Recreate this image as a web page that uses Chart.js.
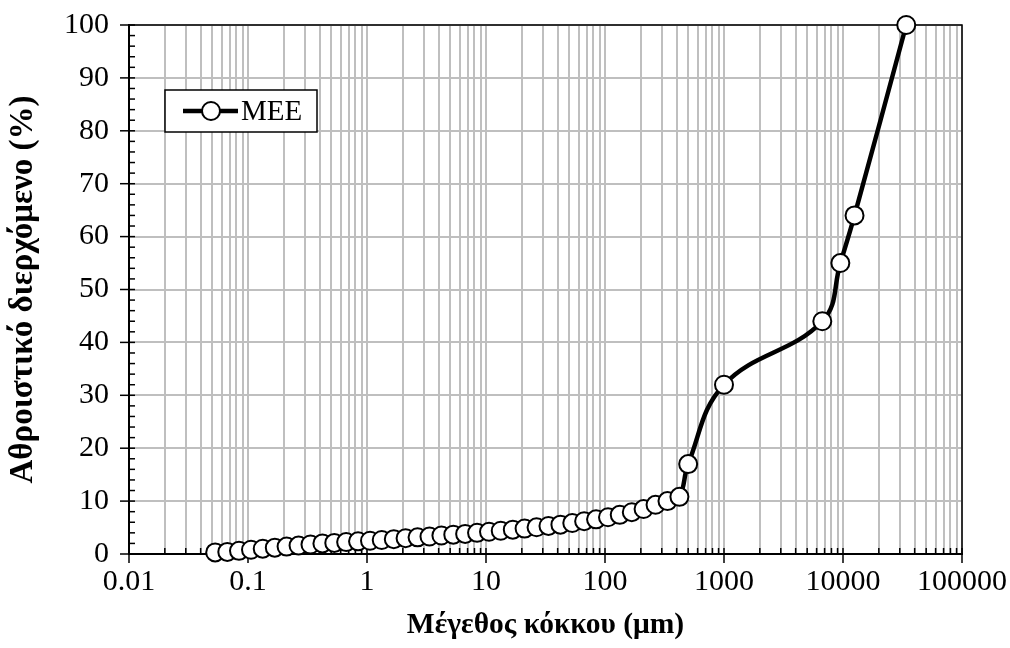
<!DOCTYPE html>
<html>
<head>
<meta charset="utf-8">
<script src="https://cdn.jsdelivr.net/npm/chart.js@4.4.1/dist/chart.umd.min.js"></script>
<style>
  html, body { margin: 0; padding: 0; background: #fff; }
</style>
</head>
<body>
<canvas id="psd-chart" width="1010" height="648"></canvas>
<script>
// grain size (um) and cumulative passing (%)
const grainSize = [0.053, 0.067, 0.084, 0.106, 0.133, 0.168, 0.211, 0.266, 0.335, 0.422,
  0.531, 0.668, 0.841, 1.06, 1.33, 1.68, 2.11, 2.66, 3.35, 4.22,
  5.31, 6.68, 8.41, 10.6, 13.3, 16.8, 21.1, 26.6, 33.5, 42.2,
  53.1, 66.8, 84.1, 106, 133, 168, 211, 266, 335, 422,
  500, 1000, 6700, 9500, 12500, 34000];
const passing = [0.3, 0.4, 0.6, 0.8, 1.0, 1.2, 1.4, 1.6, 1.8, 2.0,
  2.1, 2.25, 2.4, 2.5, 2.65, 2.8, 3.0, 3.15, 3.3, 3.5,
  3.65, 3.8, 4.0, 4.2, 4.4, 4.6, 4.8, 5.05, 5.3, 5.55,
  5.85, 6.2, 6.55, 6.95, 7.4, 7.9, 8.5, 9.3, 10.0, 10.8,
  17, 32, 44, 55, 64, 100];
const seriesName = 'MEE';
const xDecades = [0.01, 0.1, 1, 10, 100, 1000, 10000, 100000];
const xTitle = 'Μέγεθος κόκκου (μm)';
const yTitle = 'Αθροιστικό διερχόμενο (%)';

const FONT = "'Liberation Serif', 'Times New Roman', serif";

// frame + tick marks (major ticks cross the axis, minor ticks point inwards)
const frameTicks = {
  id: 'frameTicks',
  beforeDatasetsDraw(chart) {
    const { ctx, chartArea: a, scales: { x, y } } = chart;
    ctx.save();
    ctx.strokeStyle = '#000';
    ctx.lineWidth = 1.5;
    ctx.strokeRect(a.left, a.top, a.right - a.left, a.bottom - a.top);
    x.ticks.forEach(t => {
      const px = x.getPixelForValue(t.value);
      const major = xDecades.includes(t.value);
      ctx.beginPath();
      ctx.moveTo(px, a.bottom - 6);
      ctx.lineTo(px, a.bottom + (major ? 9 : 0));
      ctx.stroke();
    });
    for (let v = 0; v <= 100; v += 2) {
      const py = y.getPixelForValue(v);
      const major = v % 10 === 0;
      ctx.beginPath();
      ctx.moveTo(a.left - (major ? 9 : 0), py);
      ctx.lineTo(a.left + 6, py);
      ctx.stroke();
    }
    ctx.restore();
  }
};

const legendBox = {
  id: 'legendBox',
  afterDraw(chart) {
    const ctx = chart.ctx;
    const ds = chart.data.datasets[0];
    ctx.save();
    ctx.fillStyle = '#fff';
    ctx.fillRect(165, 90, 152, 42);
    ctx.strokeStyle = '#000';
    ctx.lineWidth = 1.5;
    ctx.strokeRect(165, 90, 152, 42);
    ctx.lineWidth = 4.5;
    ctx.beginPath();
    ctx.moveTo(183, 111);
    ctx.lineTo(238, 111);
    ctx.stroke();
    ctx.beginPath();
    ctx.arc(211, 111, 9, 0, Math.PI * 2);
    ctx.fillStyle = '#fff';
    ctx.fill();
    ctx.lineWidth = 2;
    ctx.stroke();
    ctx.fillStyle = '#000';
    ctx.font = "29px " + FONT;
    ctx.textBaseline = 'middle';
    ctx.fillText(ds.label, 241, 112);
    ctx.restore();
  }
};

const ctx = document.getElementById('psd-chart').getContext('2d');
const psdChart = new Chart(ctx, {
  type: 'line',
  data: {
    datasets: [{
      label: seriesName,
      data: grainSize.map((g, i) => ({ x: g, y: passing[i] })),
      borderColor: '#000',
      borderWidth: 4.5,
      tension: 0.4,
      pointRadius: 9,
      pointBorderWidth: 2,
      pointBackgroundColor: '#fff',
      pointBorderColor: '#000',
      clip: false,
    }]
  },
  options: {
    responsive: false,
    animation: false,
    devicePixelRatio: 1,
    layout: { padding: { top: 25, right: 48, bottom: 0, left: 0 } },
    plugins: {
      legend: { display: false },
      tooltip: { enabled: false },
    },
    scales: {
      x: {
        type: 'logarithmic',
        min: 0.01,
        max: 100000,
        afterFit: s => {
          s.height = 94;
          s.paddingLeft = 0;
          s.paddingRight = 0;
        },
        afterBuildTicks: s => {
          const ticks = [];
          xDecades.forEach(d => {
            for (let m = 1; m <= 9; m++) {
              const v = m === 1 ? d : +(d * m).toPrecision(6);
              if (v <= 100000) ticks.push({ value: v });
            }
          });
          s.ticks = ticks;
        },
        ticks: {
          autoSkip: false,
          maxRotation: 0,
          padding: 10,
          color: '#000',
          font: { family: FONT, size: 30 },
          callback: v => xDecades.includes(v) ? String(v) : '',
        },
        grid: { color: '#bfbfbf', lineWidth: 2, drawTicks: false },
        border: { color: '#000', width: 2 },
        title: {
          display: true,
          text: xTitle,
          color: '#000',
          font: { family: FONT, size: 29.5, weight: 'bold' },
          padding: { top: 0, bottom: 5 },
        },
      },
      y: {
        min: 0,
        max: 100,
        afterFit: s => {
          s.width = 129;
          s.paddingTop = 0;
          s.paddingBottom = 0;
        },
        ticks: {
          stepSize: 10,
          padding: 20,
          color: '#000',
          font: { family: FONT, size: 30 },
        },
        grid: { color: '#bfbfbf', lineWidth: 2, drawTicks: false },
        border: { color: '#000', width: 2 },
        title: {
          display: true,
          text: yTitle,
          color: '#000',
          font: { family: FONT, size: 33, weight: 'bold' },
          padding: { top: 4, bottom: 0 },
        },
      },
    },
  },
  plugins: [frameTicks, legendBox],
});
</script>
</body>
</html>
